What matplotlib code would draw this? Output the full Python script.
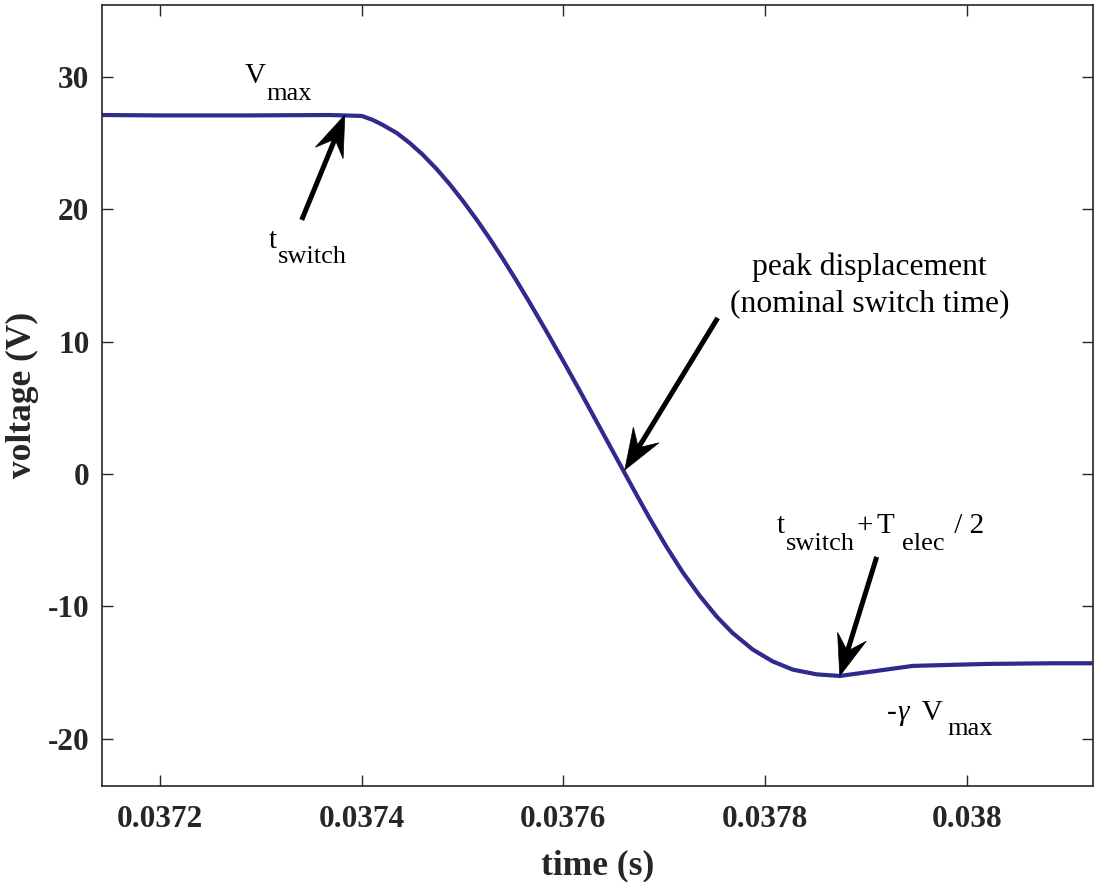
import matplotlib
matplotlib.use("Agg")
import matplotlib.pyplot as plt
from matplotlib.transforms import offset_copy, IdentityTransform
from matplotlib.patches import Polygon
from matplotlib.lines import Line2D
import numpy as np

# ---- data ----
time_s = [0.0371415, 0.0372000, 0.0372892, 0.0373685, 0.0374002, 0.0374111,
          0.0374210, 0.0374349, 0.0374478, 0.0374607, 0.0374745, 0.0374874,
          0.0375003, 0.0375142, 0.0375271, 0.0375400, 0.0375538, 0.0375667,
          0.0375836, 0.0375994, 0.0376163, 0.0376331, 0.0376490, 0.0376609,
          0.0376728, 0.0376856, 0.0377025, 0.0377183, 0.0377352, 0.0377520,
          0.0377679, 0.0377877, 0.0378075, 0.0378274, 0.0378512, 0.0378740,
          0.0379463, 0.0380197, 0.0380851, 0.0381247]
voltage_v = [27.13, 27.10, 27.10, 27.13, 27.06, 26.76,
             26.38, 25.77, 25.01, 24.13, 23.04, 21.90,
             20.65, 19.21, 17.78, 16.27, 14.58, 12.94,
             10.73, 8.60, 6.29, 3.94, 1.72, 0.05,
             -1.61, -3.36, -5.54, -7.43, -9.21, -10.78,
             -12.03, -13.27, -14.17, -14.79, -15.15, -15.27,
             -14.51, -14.36, -14.31, -14.31]
x_ticks = [0.0372, 0.0374, 0.0376, 0.0378, 0.0380]
x_tick_labels = ["0.0372", "0.0374", "0.0376", "0.0378", "0.038"]
y_ticks = [-20, -10, 0, 10, 20, 30]
y_tick_labels = ["-20", "-10", "0", "10", "20", "30"]

SERIF = ["Liberation Serif", "DejaVu Serif"]
plt.rcParams["font.family"] = SERIF

DPI = 100
fig = plt.figure(figsize=(10.94, 8.82), dpi=DPI)
ax = fig.add_axes([0.0932, 0.1088, 0.9058, 0.8859])

ax.plot(time_s, voltage_v, color="#2f2a8c", lw=3.0, solid_joinstyle="round",
        solid_capstyle="butt")

ax.set_xlim(0.0371427, 0.0381249)
ax.set_ylim(-23.59, 35.47)
ax.set_xticks(x_ticks)
ax.set_xticklabels(x_tick_labels)
ax.set_yticks(y_ticks)
ax.set_yticklabels(y_tick_labels)

dark = "#262626"
ax.tick_params(direction="in", length=7.8, width=1.0, top=True, right=True,
               labelsize=22.5, colors=dark)
ax.tick_params(axis="x", pad=14)
ax.tick_params(axis="y", pad=9)
for lab in ax.get_xticklabels() + ax.get_yticklabels():
    lab.set_fontweight("bold")
for sp in ax.spines.values():
    sp.set_color(dark)
    sp.set_linewidth(1.2)

ax.set_xlabel("time (s)", fontsize=25.5, fontweight="bold", color=dark, labelpad=11)
ax.set_ylabel("voltage (V)", fontsize=25.5, fontweight="bold", color=dark, labelpad=6)

BASE = 21
SUB = 19
renderer = fig.canvas.get_renderer()


def rich(x, y, parts, sub_drop=17):
    """parts = [(text, is_sub, gap_px_before, style)] laid out left to right."""
    dx = 0.0
    for txt, is_sub, gap, style in parts:
        dx += gap
        dy = -sub_drop if is_sub else 0
        tr = offset_copy(ax.transData, fig=fig, x=dx, y=dy, units="dots")
        t = ax.text(x, y, txt, transform=tr, fontsize=SUB if is_sub else BASE,
                    color="black", ha="left", va="baseline", family=SERIF,
                    style=style)
        bb = t.get_window_extent(renderer=renderer)
        dx += bb.width


def arrow(tail, head, L=41, W=15, notch=26, shaft_lw=3.6):
    """Swept-back (MATLAB-like) arrow from tail to head, both in data coords."""
    p0 = ax.transData.transform(tail)
    p1 = ax.transData.transform(head)
    u = (p1 - p0) / np.hypot(*(p1 - p0))
    n = np.array([-u[1], u[0]])
    back = p1 - u * L
    barb1 = back + n * W
    barb2 = back - n * W
    nt = p1 - u * notch
    ident = IdentityTransform()
    fig.add_artist(Line2D([p0[0], nt[0] + u[0] * 4], [p0[1], nt[1] + u[1] * 4],
                          color="black", lw=shaft_lw, solid_capstyle="butt",
                          transform=ident))
    fig.add_artist(Polygon([p1, barb1, nt, barb2], closed=True, facecolor="black",
                           edgecolor="black", lw=0.5, transform=ident))


# V_max
rich(0.0372842, 29.55, [("V", False, 0, "normal"), ("max", True, 1, "normal")])
# t_switch
arrow((0.0373407, 19.2), (0.0373834, 27.13))
rich(0.0373080, 17.08, [("t", False, 0, "normal"), ("switch", True, 1, "normal")],
     sub_drop=15)

# peak displacement
arrow((0.0377530, 11.79), (0.0376609, 0.30))
ax.text(0.0379037, 15.04, "peak displacement", fontsize=22.8, ha="center",
        va="baseline", color="black")
ax.text(0.0379037, 12.32, "(nominal switch time)", fontsize=22.8, ha="center",
        va="baseline", color="black")

# t_switch + T_elec / 2
arrow((0.0379106, -6.27), (0.0378740, -15.27))
rich(0.0378115, -4.46, [("t", False, 0, "normal"), ("switch", True, 1, "normal"),
                        ("+", False, 2, "normal"), ("T", False, 3, "normal"),
                        ("elec", True, 8, "normal"), (" / 2", False, 3, "normal")],
     sub_drop=17)

# -gamma V_max
rich(0.0379205, -18.6, [("-", False, 0, "normal"), ("\u03b3", False, 1, "italic"),
                        (" V", False, 6, "normal"), ("max", True, 5, "normal")],
     sub_drop=15)

fig.savefig("out.png", dpi=DPI)
